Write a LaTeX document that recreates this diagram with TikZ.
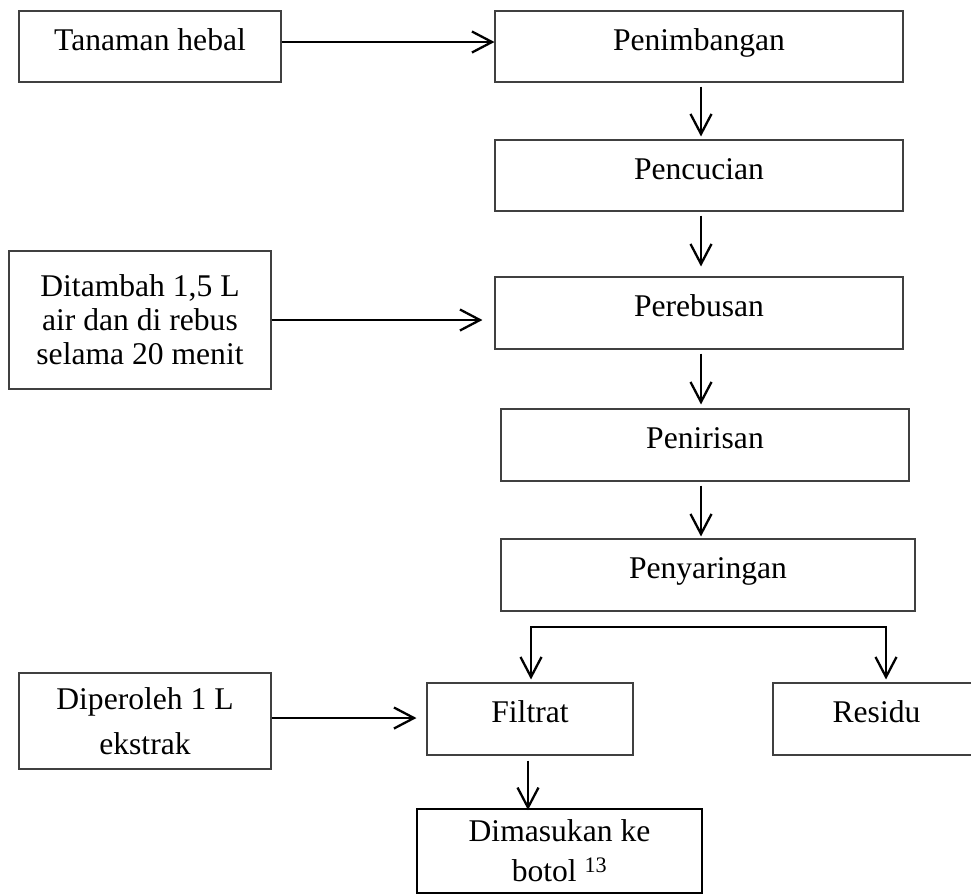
\documentclass[tikz,border=0pt]{standalone}
\usepackage{fontspec}
\setmainfont{Liberation Serif}
\usetikzlibrary{arrows.meta}
\tikzset{
  box/.style={draw=black!75, line width=1.1pt, inner sep=0pt, rectangle,
    font=\fontsize{31.6}{38}\selectfont, align=center},
  one/.style={text height=22pt, text depth=15pt},
  arr/.style={line width=2.3pt, line join=miter,
    -{Straight Barb[length=20pt,width=21pt,line width=2.3pt]}},
}
\begin{document}
\begin{tikzpicture}[x=1pt,y=-1pt]
\useasboundingbox (0,0) rectangle (971,895);
\clip (0,0) rectangle (971,895);
% boxes
\node[box,one,minimum width=262pt,minimum height=71pt] (tan) at (150,46.5) {Tanaman hebal};
\node[box,one,minimum width=408pt,minimum height=71pt] (pen) at (699,46.5) {Penimbangan};
\node[box,one,minimum width=408pt,minimum height=71pt] (cuc) at (699,175.5) {Pencucian};
\node[box,one,minimum width=408pt,minimum height=72pt] (reb) at (699,313) {Perebusan};
\node[box,minimum width=262pt,minimum height=138pt,font=\fontsize{31.6}{34}\selectfont] (tam) at (140,320)
  {Ditambah 1,5 L\\air dan di rebus\\selama 20 menit};
\node[box,one,minimum width=408pt,minimum height=72pt] (nir) at (705,445) {Penirisan};
\node[box,one,minimum width=414pt,minimum height=72pt] (sar) at (708,575) {Penyaringan};
\node[box,one,minimum width=206pt,minimum height=72pt] (fil) at (530,719) {Filtrat};
\node[box,one,minimum width=260pt,minimum height=72pt] (res) at (903,719) {Residu\hspace*{53pt}};
\node[box,minimum width=252pt,minimum height=96pt,font=\fontsize{31.6}{45}\selectfont] (dip) at (145,721)
  {Diperoleh 1 L\\ekstrak};
\node[box,draw=black,line width=2pt,minimum width=285pt,minimum height=84pt,font=\fontsize{31.6}{40}\selectfont] (dim) at (559.5,851)
  {Dimasukan ke\\botol \textsuperscript{13}};
% connectors
\draw[arr] ([yshift=4.5pt]tan.east) -- ([yshift=4.5pt]pen.west);
\draw[arr] ([xshift=2pt,yshift=-4pt]pen.south) -- ([xshift=2pt,yshift=3pt]cuc.north);
\draw[arr] ([xshift=2pt,yshift=-4pt]cuc.south) -- ([xshift=2pt,yshift=10pt]reb.north);
\draw[arr] ([xshift=2pt,yshift=-4pt]reb.south) -- ([xshift=-4pt,yshift=4pt]nir.north);
\draw[arr] ([xshift=-4pt,yshift=-4pt]nir.south) -- ([xshift=-7pt,yshift=2pt]sar.north);
\draw[arr] (tam.east) -- ([xshift=-12pt,yshift=-7pt]reb.west);
\coordinate (sL) at (531,627);
\coordinate (sR) at (886,627);
\draw[arr] (sR) -- (sL) -- ([xshift=1pt,yshift=3pt]fil.north);
\draw[arr] (sL) -- (sR) -- ([xshift=-17pt,yshift=3pt]res.north);
\draw[arr] ([yshift=3pt]dip.east) -- ([xshift=-10pt,yshift=1pt]fil.west);
\draw[arr] ([xshift=-2pt,yshift=-5pt]fil.south) -- ([xshift=-31.5pt,yshift=-2pt]dim.north);
\end{tikzpicture}
\end{document}
